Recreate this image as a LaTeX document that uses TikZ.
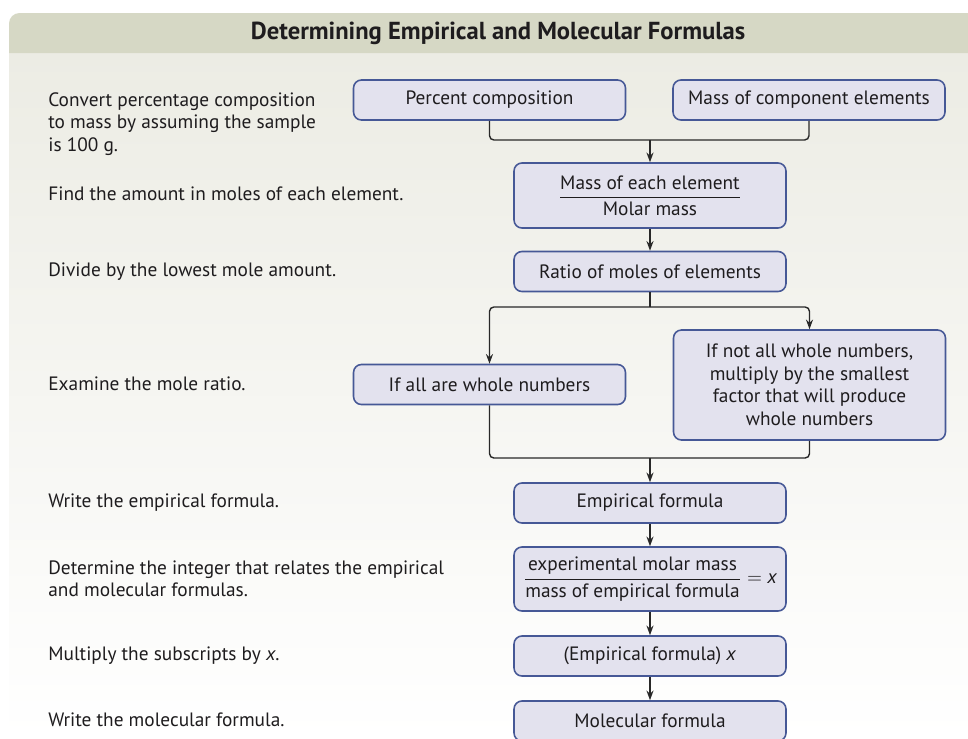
\documentclass[tikz,border=0pt]{standalone}
\usepackage{amsmath}
\usepackage{fontspec}
\setmainfont{PT Sans}
\usepackage{tikz}
\usetikzlibrary{arrows.meta, positioning, calc}
\definecolor{headgreen}{RGB}{214, 216, 197}
\definecolor{bodygray}{RGB}{236, 236, 228}
\definecolor{boxfill}{RGB}{227, 226, 238}
\definecolor{boxline}{RGB}{70, 88, 150}
\definecolor{linkgray}{RGB}{40, 40, 40}
\definecolor{textgray}{RGB}{30, 28, 30}
\tikzset{
  stepbox/.style={draw=boxline, line width=0.9pt, fill=boxfill, rounded corners=4.5pt,
    minimum width=5.44cm, minimum height=0.8cm, inner sep=0pt, align=center,
    text=textgray, font=\fontsize{11}{12.8}\selectfont},
  note/.style={anchor=west, align=left, inner sep=0pt, text=textgray,
    font=\fontsize{11}{12.8}\selectfont},
  link/.style={draw=linkgray, line width=0.8pt, rounded corners=2.5pt},
  arr/.style={link, -{Stealth[length=5.5pt, width=4pt]}}
}
\begin{document}
\begin{tikzpicture}[x=0.02cm, y=-0.02cm]
        \useasboundingbox (0,0) rectangle (968,738);
        % Panel background
        \shade[top color=bodygray, bottom color=white] (9,53) rectangle (968,738);
        \fill[headgreen] (9,53) [rounded corners=6pt] -- (9,13) [sharp corners] -- (968,13) -- (968,53) -- cycle;
        \node[font=\fontsize{14}{16}\selectfont\bfseries, text=textgray] (title) at (498,33)
          {Determining Empirical and Molecular Formulas};
        % Flow boxes
        \node[stepbox] (pct) at (489.5,100) {Percent composition};
        \node[stepbox] (mass) at (809,100) {Mass of component elements};
        \node[stepbox, minimum height=1.3cm] (moles) at (650,195.5)
          {$\dfrac{\text{Mass of each element}}{\text{Molar mass}}$};
        \node[stepbox] (ratio) at (650,271.5) {Ratio of moles of elements};
        \node[stepbox] (whole) at (489.5,384.5) {If all are whole numbers};
        \node[stepbox, minimum height=2.2cm] (notwhole) at (809.5,385)
          {If not all whole numbers,\\ multiply by the smallest\\ factor that will produce\\ whole numbers};
        \node[stepbox] (empf) at (650,503) {Empirical formula};
        \node[stepbox, minimum height=1.28cm] (intx) at (650,579)
          {$\dfrac{\text{experimental molar mass}}{\text{mass of empirical formula}} = \textit{x}$};
        \node[stepbox] (mult) at (650,656) {(Empirical formula) \textit{x}};
        \node[stepbox] (molf) at (650,721) {Molecular formula};
        % Joins and splits
        \coordinate (join1) at (650,140);
        \coordinate (split) at (650,307);
        \coordinate (join2) at (650,458);
        \draw[link] (pct.south) |- (join1) -| (mass.south);
        \draw[arr] (join1) -- (moles.north);
        \draw[arr] (moles.south) -- (ratio.north);
        \draw[link] (ratio.south) -- (split);
        \draw[arr] (split) -| (whole.north);
        \draw[arr] (split) -| (notwhole.north);
        \draw[link] (whole.south) |- (join2) -| (notwhole.south);
        \draw[arr] (join2) -- (empf.north);
        \draw[arr] (empf.south) -- (intx.north);
        \draw[arr] (intx.south) -- (mult.north);
        \draw[arr] (mult.south) -- (molf.north);
        % Step notes
        \node[note, anchor=north west] (n1) at (48,92)
          {Convert percentage composition\\ to mass by assuming the sample\\ is 100 g.};
        \node[note] (n2) at (48,194) {Find the amount in moles of each element.};
        \node[note] (n3) at (48,272) {Divide by the lowest mole amount.};
        \node[note] (n4) at (48,384) {Examine the mole ratio.};
        \node[note] (n5) at (48,503) {Write the empirical formula.};
        \node[note] (n6) at (48,579)
          {Determine the integer that relates the empirical\\ and molecular formulas.};
        \node[note] (n7) at (48,656) {Multiply the subscripts by \textit{x}.};
        \node[note] (n8) at (48,720) {Write the molecular formula.};
      \end{tikzpicture}
\end{document}
